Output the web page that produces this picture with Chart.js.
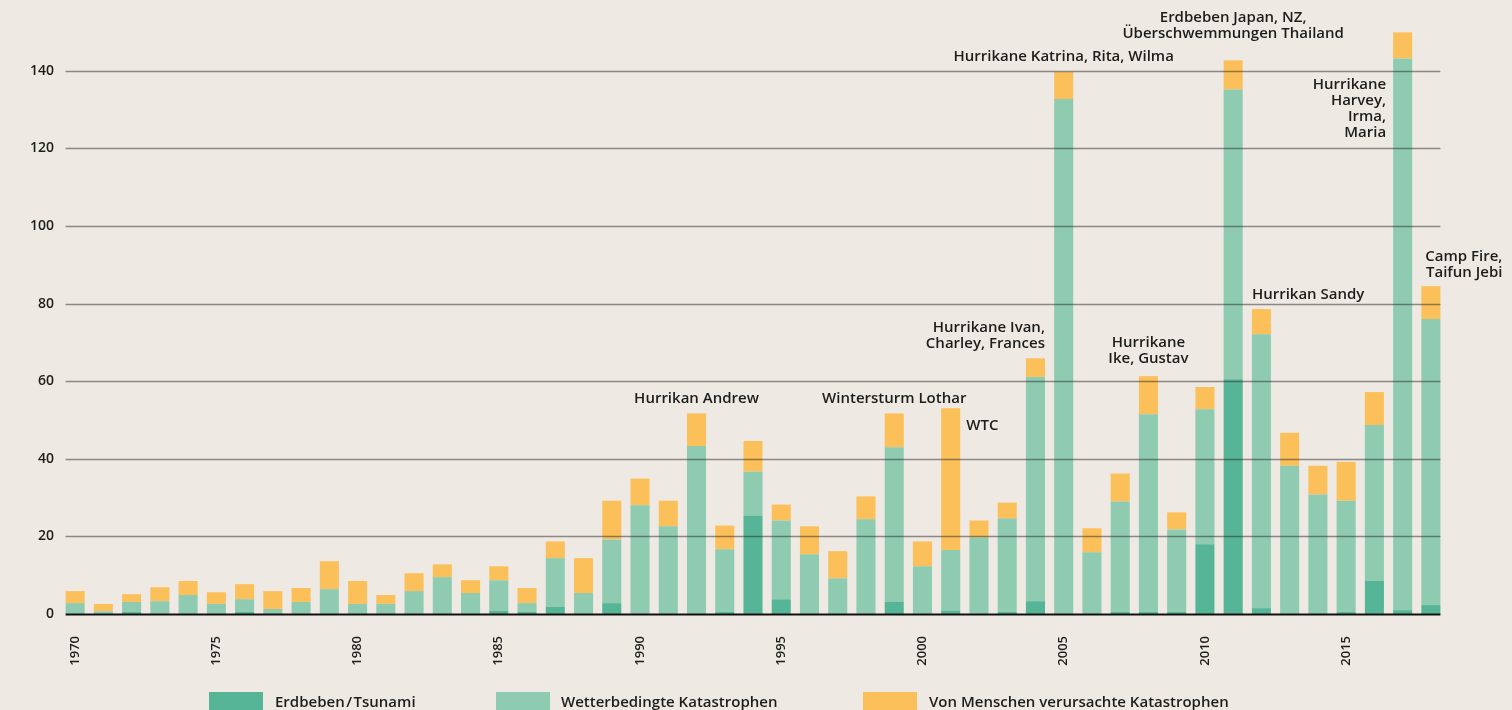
<!DOCTYPE html>
<html>
<head>
<meta charset="utf-8">
<script src="https://cdn.jsdelivr.net/npm/chart.js@4/dist/chart.umd.min.js"></script>
<style>
  html, body { margin: 0; padding: 0; background: #EEE9E3; }
  #wrap { position: relative; width: 1512px; height: 710px; overflow: hidden; background: #EEE9E3; }
  #chart { position: absolute; left: 0; top: 0; }
  .lg { position: absolute; top: 692px; height: 20px; font: 600 15px "Open Sans", sans-serif; color: #1d1d1b; }
  .lg span.box { position: absolute; left: 0; top: 0; width: 54px; height: 20px; }
  .lg span.txt { position: absolute; top: -1px; white-space: nowrap; }
</style>
</head>
<body>
<div id="wrap">
  <canvas id="chart" width="1512" height="710"></canvas>
  <div class="lg" style="left:209px"><span class="box" style="background:#56B596"></span><span class="txt" style="left:66px">Erdbeben&#8202;/&#8202;Tsunami</span></div>
  <div class="lg" style="left:496px"><span class="box" style="background:#8ECBB1"></span><span class="txt" style="left:65px">Wetterbedingte Katastrophen</span></div>
  <div class="lg" style="left:863px"><span class="box" style="background:#FBC05A"></span><span class="txt" style="left:66px">Von Menschen verursachte Katastrophen</span></div>
</div>
<script>
// Jahre 1970 - 2018
let years = [];
for (let y = 1970; y <= 2018; y++) years.push(String(y));

// Erdbeben / Tsunami
let quake = [0, 0, 0.5, 0, 0, 0, 0.5, 0, 0, 0,
             0, 0, 0, 0, 0, 0.8, 0.5, 1.8, 0, 2.8,
             0, 0, 0, 0.5, 25.4, 3.8, 0, 0, 0, 3.1,
             0, 0.8, 0, 0.5, 3.3, 0, 0, 0.5, 0.5, 0.5,
             18.0, 60.5, 1.5, 0, 0, 0.5, 8.5, 1.0, 2.3];

// Wetterbedingte Katastrophen
let weather = [2.8, 0.7, 2.6, 3.3, 4.9, 2.6, 3.3, 1.3, 3.1, 6.4,
               2.6, 2.6, 5.9, 9.5, 5.4, 7.9, 2.3, 12.6, 5.4, 16.4,
               28.0, 22.6, 43.3, 16.2, 11.3, 20.3, 15.4, 9.2, 24.4, 39.9,
               12.3, 15.7, 19.7, 24.1, 57.8, 132.7, 15.9, 28.5, 51.0, 21.3,
               34.8, 74.7, 70.6, 38.2, 30.8, 28.7, 40.2, 142.2, 73.7];

// Von Menschen verursachte Katastrophen
let manmade = [3.1, 1.9, 2.0, 3.6, 3.6, 3.0, 3.9, 4.6, 3.6, 7.2,
               5.9, 2.3, 4.6, 3.3, 3.3, 3.6, 3.9, 4.3, 9.0, 10.0,
               6.9, 6.6, 8.4, 6.1, 7.9, 4.1, 7.2, 7.0, 5.9, 8.7,
               6.4, 36.5, 4.4, 4.1, 4.8, 7.0, 6.2, 7.2, 9.8, 4.4,
               5.7, 7.5, 6.5, 8.5, 7.4, 10.0, 8.5, 6.7, 8.5];

let y_ticks = [0, 20, 40, 60, 80, 100, 120, 140];

// Beschriftungen der grossen Ereignisse
let notes = [
  { year: '1992', lines: ['Hurrikan Andrew'], at: 55.4, align: 'center', dx: 0 },
  { year: '1999', lines: ['Wintersturm Lothar'], at: 55.4, align: 'center', dx: 0 },
  { year: '2001', lines: ['WTC'], at: 48.4, align: 'afterBar', dx: 6 },
  { year: '2004', lines: ['Hurrikane Ivan,', 'Charley, Frances'], at: 73.7, align: 'right', dx: 0 },
  { year: '2005', lines: ['Hurrikane Katrina, Rita, Wilma'], at: 143.7, align: 'center', dx: 0 },
  { year: '2008', lines: ['Hurrikane', 'Ike, Gustav'], at: 69.8, align: 'center', dx: 0 },
  { year: '2011', lines: ['Erdbeben Japan, NZ,', 'Überschwemmungen Thailand'], at: 153.8, align: 'center', dx: 0 },
  { year: '2012', lines: ['Hurrikan Sandy'], at: 82.2, align: 'left', dx: 0 },
  { year: '2017', lines: ['Hurrikane', 'Harvey,', 'Irma,', 'Maria'], at: 136.5, align: 'beforeBar', dx: -7 },
  { year: '2018', lines: ['Camp Fire,', 'Taifun Jebi'], at: 92.2, align: 'right', dx: 62 }
];

const colors = { quake: '#56B596', weather: '#8ECBB1', manmade: '#FBC05A' };
const txtColor = '#1d1d1b';
const fontFam = '"Open Sans", sans-serif';

// gitterlinien ueber den balken, nur so breit wie die balken
const gridOver = {
  id: 'gridOver',
  afterDatasetsDraw(chart) {
    const ctx = chart.ctx;
    const bars = chart.getDatasetMeta(0).data;
    const x0 = bars[0].x - bars[0].width / 2;
    const x1 = bars[bars.length - 1].x + bars[bars.length - 1].width / 2;
    const ys = chart.scales.y;
    ctx.save();
    y_ticks.forEach(v => {
      const py = Math.round(ys.getPixelForValue(v)) + 0.5;
      ctx.beginPath();
      if (v === 0) {
        ctx.strokeStyle = '#111';
        ctx.lineWidth = 2.2;
      } else {
        ctx.strokeStyle = 'rgba(40,40,40,0.5)';
        ctx.lineWidth = 1.3;
      }
      ctx.moveTo(x0, py);
      ctx.lineTo(x1, py);
      ctx.stroke();
    });
    ctx.restore();
  }
};

const noteLabels = {
  id: 'noteLabels',
  afterDraw(chart) {
    const ctx = chart.ctx;
    const meta = chart.getDatasetMeta(0);
    const ys = chart.scales.y;
    ctx.save();
    ctx.font = '600 15px ' + fontFam;
    ctx.fillStyle = txtColor;
    ctx.textBaseline = 'middle';
    notes.forEach(n => {
      const bar = meta.data[years.indexOf(n.year)];
      const half = bar.width / 2;
      let x = bar.x;
      ctx.textAlign = 'center';
      if (n.align === 'left') { ctx.textAlign = 'left'; x = bar.x - half + n.dx; }
      if (n.align === 'afterBar') { ctx.textAlign = 'left'; x = bar.x + half + n.dx; }
      if (n.align === 'right') { ctx.textAlign = 'right'; x = bar.x + half + n.dx; }
      if (n.align === 'beforeBar') { ctx.textAlign = 'right'; x = bar.x - half + n.dx; }
      const y = ys.getPixelForValue(n.at);
      n.lines.forEach((t, i) => ctx.fillText(t, x, y + i * 16));
    });
    ctx.restore();
  }
};

new Chart(document.getElementById('chart').getContext('2d'), {
  type: 'bar',
  data: {
    labels: years,
    datasets: [
      { label: 'Erdbeben / Tsunami', data: quake, backgroundColor: colors.quake },
      { label: 'Wetterbedingte Katastrophen', data: weather, backgroundColor: colors.weather },
      { label: 'Von Menschen verursachte Katastrophen', data: manmade, backgroundColor: colors.manmade }
    ]
  },
  options: {
    responsive: false,
    animation: false,
    categoryPercentage: 1,
    barPercentage: 0.675,
    layout: { padding: { top: 32, right: 67, left: 0, bottom: 0 } },
    plugins: {
      legend: { display: false },
      tooltip: { enabled: false }
    },
    scales: {
      x: {
        stacked: true,
        grid: { display: false, drawTicks: false },
        border: { display: false },
        ticks: {
          autoSkip: false,
          minRotation: 90,
          maxRotation: 90,
          padding: 22,
          color: txtColor,
          font: { family: fontFam, size: 13, weight: '600' },
          callback: function(v, i) {
            let yr = years[i];
            return (Number(yr) % 5 === 0) ? yr : '';
          }
        },
        afterFit: function(s) { s.height = 96; }
      },
      y: {
        stacked: true,
        min: 0,
        max: 150,
        grid: { display: false, drawTicks: false },
        border: { display: false },
        ticks: {
          stepSize: 20,
          padding: 7,
          color: txtColor,
          font: { family: fontFam, size: 14, weight: '600' }
        },
        afterBuildTicks: function(s) {
          s.ticks = y_ticks.map(v => ({ value: v }));
        },
        afterFit: function(s) { s.width = 61; }
      }
    }
  },
  plugins: [gridOver, noteLabels]
});
</script>
</body>
</html>
